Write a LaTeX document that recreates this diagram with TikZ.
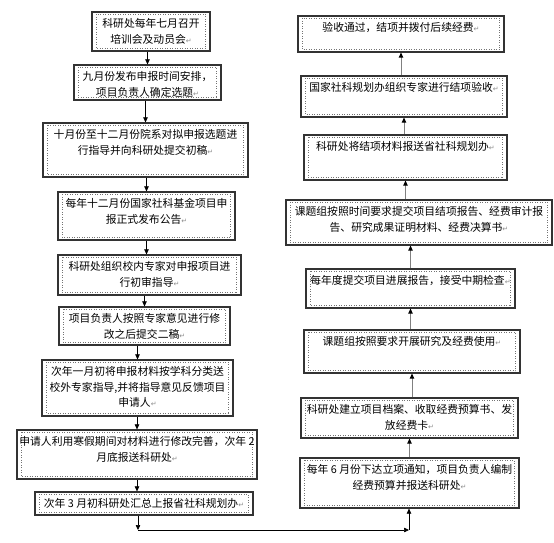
\documentclass[tikz,border=0pt]{standalone}
\usepackage{fontspec}
\setmainfont{Noto Sans CJK SC}
\newfontfamily\symfont{DejaVu Sans}
\usetikzlibrary{arrows.meta}
\newcommand{\pmk}{{\symfont\fontsize{7}{7}\selectfont\color{black!45}↵}}

\begin{document}
\begin{tikzpicture}[
    x=1pt, y=-1pt,
    font=\fontsize{10.8}{15.5}\selectfont,
    frame/.style={draw=black!80, line width=1.2pt, inner sep=0pt},
    txt/.style={anchor=north, align=center, inner sep=0pt},
    inbox/.style={draw=black!55, dotted, line width=0.5pt},
    larr/.style={-{Triangle[length=5pt,width=4.5pt]}, line width=0.6pt},
    rarr/.style={-{Triangle[length=5pt,width=4.5pt,color=black]}, draw=black!50, line width=0.8pt},
  ]
  \useasboundingbox (0,0) rectangle (554,543);

  % frames with the dotted text boxes inside
  \foreach \n/\x/\y/\w/\h in {l1/151/31.5/118/39, l2/147.5/82.5/147/35, l3/145.5/150/205/54,
      l4/146.5/216/177/48, l5/149.5/275/183/40, l6/144.5/326/171/38, l7/137.5/388/191/56,
      l8/137/454.5/240/49, l9/144/503.5/218/23,
      r1/409.5/483/219/50, r2/409.5/418/217/40, r3/412/351.5/216/43, r4/410.5/288.5/209/39,
      r5/419/222.5/266/45, r6/405.5/157.5/203/45, r7/404/96.5/206/41, r8/401/34/206/36} {
    \node[frame, minimum width=\w, minimum height=\h] (\n) at (\x,\y) {};
    \draw[inbox] ([shift={(5pt,-3pt)}]\n.north west) rectangle ([shift={(-5pt,3pt)}]\n.south east);
  }

  % left column
  \node[txt] (l1t) at ([yshift=-7pt]l1.north) {科研处每年七月召开\\培训会及动员会\pmk};
  \node[txt] (l2t) at ([yshift=-7pt]l2.north) {九月份发布申报时间安排，\\项目负责人确定选题\pmk};
  \node[txt] (l3t) at ([yshift=-7pt]l3.north) {十月份至十二月份院系对拟申报选题进\\行指导并向科研处提交初稿\pmk};
  \node[txt] (l4t) at ([yshift=-7pt]l4.north) {每年十二月份国家社科基金项目申\\报正式发布公告\pmk};
  \node[txt] (l5t) at ([yshift=-7pt]l5.north) {科研处组织校内专家对申报项目进\\行初审指导\pmk};
  \node[txt] (l6t) at ([yshift=-7pt]l6.north) {项目负责人按照专家意见进行修\\改之后提交二稿\pmk};
  \node[txt] (l7t) at ([yshift=-7pt]l7.north) {次年一月初将申报材料按学科分类送\\校外专家指导,并将指导意见反馈项目\\申请人\pmk};
  \node[txt] (l8t) at ([yshift=-7pt]l8.north) {申请人利用寒假期间对材料进行修改完善，次年 2\\月底报送科研处\pmk};
  \node[txt] (l9t) at ([yshift=-7pt]l9.north) {次年 3 月初科研处汇总上报省社科规划办\pmk};

  % right column
  \node[txt] (r1t) at ([yshift=-7pt]r1.north) {每年 6 月份下达立项通知，项目负责人编制\\经费预算并报送科研处\pmk};
  \node[txt] (r2t) at ([yshift=-7pt]r2.north) {科研处建立项目档案、收取经费预算书、发\\放经费卡\pmk};
  \node[txt] (r3t) at ([yshift=-7pt]r3.north) {课题组按照要求开展研究及经费使用\pmk};
  \node[txt] (r4t) at ([yshift=-7pt]r4.north) {每年度提交项目进展报告，接受中期检查\pmk};
  \node[txt] (r5t) at ([yshift=-7pt]r5.north) {课题组按照时间要求提交项目结项报告、经费审计报\\告、研究成果证明材料、经费决算书\pmk};
  \node[txt] (r6t) at ([yshift=-7pt]r6.north) {科研处将结项材料报送省社科规划办\pmk};
  \node[txt] (r7t) at ([yshift=-7pt]r7.north) {国家社科规划办组织专家进行结项验收\pmk};
  \node[txt] (r8t) at ([yshift=-7pt]r8.north) {验收通过，结项并拨付后续经费\pmk};

  % arrows
  \foreach \a/\b in {l1/l2, l2/l3, l3/l4, l5/l6, l6/l7, l7/l8}
    \draw[larr] (\b.north |- \a.south) -- (\b.north);
  \foreach \a/\b in {l4/l5, l8/l9}
    \draw[larr] (\a.south) -- (\a.south |- \b.north);
  \foreach \a/\b in {r1/r2, r2/r3, r3/r4, r5/r6, r6/r7, r7/r8}
    \draw[rarr] (\b.south |- \a.north) -- (\b.south);
  \draw[rarr] (r4.north) -- (r4.north |- r5.south);

  \coordinate (c1) at (138,530);
  \coordinate (c2) at (409,530);
  \draw[larr] (l9.south -| c1) -- (c1);
  \draw[larr] (c1) -- (c2);
  \draw[larr] (c2) -- (r1.south -| c2);
\end{tikzpicture}
\end{document}
